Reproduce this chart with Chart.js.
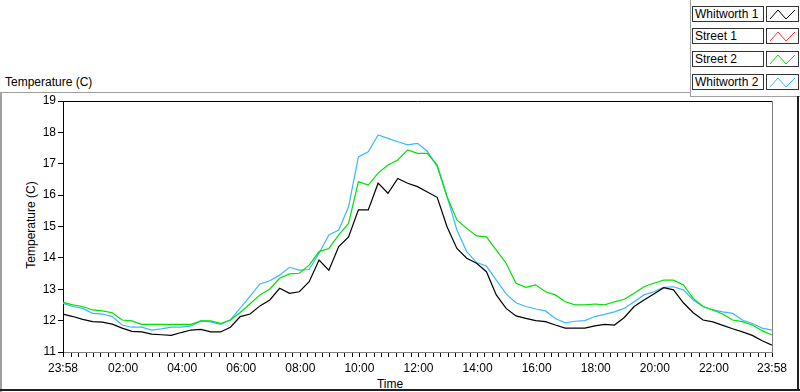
<!DOCTYPE html>
<html>
<head>
<meta charset="utf-8">
<script src="https://cdn.jsdelivr.net/npm/chart.js@4/dist/chart.umd.min.js"></script>
<style>
  body { margin: 0; background: #fff; }
  #wrap { position: relative; width: 800px; height: 392px; overflow: hidden; font-family: "Liberation Sans", Arial, sans-serif; font-size: 12px; color: #000; }
  #chart { position: absolute; left: 0; top: 0; }
  .ln { position: absolute; }
  .txt { position: absolute; white-space: nowrap; }
  .lg-name { position: absolute; left: 692px; width: 68px; height: 14px; border: 1px solid #333; background: #fff; line-height: 14px; padding-left: 2px; box-sizing: content-box; }
  .lg-sw { position: absolute; left: 766px; width: 31px; height: 14px; border: 1px solid #333; background: #fff; }
</style>
</head>
<body>
<div id="wrap">
  <!-- frame -->
  <div class="ln" style="left:0;top:92px;width:690px;height:1px;background:#a0a0a0"></div>
  <div class="ln" style="left:690px;top:0;width:1px;height:97px;background:#a0a0a0"></div>
  <div class="ln" style="left:690px;top:96px;width:110px;height:1px;background:#a0a0a0"></div>
  <div class="ln" style="left:0;top:92px;width:2px;height:300px;background:#a0a0a0"></div>
  <div class="ln" style="left:0;top:389px;width:800px;height:2px;background:#202020"></div>
  <div class="ln" style="left:797px;top:96px;width:2px;height:295px;background:#202020"></div>

  <div class="txt" style="left:5px;top:75px;">Temperature (C)</div>
  <div class="txt" style="left:390px;top:377px;transform:translateX(-50%);">Time</div>
  <div class="txt" style="left:31px;top:225px;transform:translate(-50%,-50%) rotate(-90deg);">Temperature (C)</div>

  <canvas id="chart" width="800" height="392"></canvas>
  <div id="legend"></div>
</div>
<script>
// minutes since 23:58
var times = [0,20,40,60,80,100,120,140,160,180,200,220,240,260,280,300,320,340,360,380,
  400,420,440,460,480,500,520,540,560,580,600,620,640,660,680,700,720,740,760,780,
  800,820,840,860,880,900,920,940,960,980,1000,1020,1040,1060,1080,1100,1120,1140,1160,1180,
  1200,1220,1240,1260,1280,1300,1320,1340,1360,1380,1400,1420,1440];

var whitworth1 = [12.21,12.13,12.04,11.97,11.95,11.89,11.76,11.66,11.64,11.57,11.55,11.53,11.62,11.70,11.72,11.64,11.64,11.79,
  12.13,12.21,12.47,12.66,13.03,12.87,12.92,13.24,13.93,13.61,14.36,14.67,15.53,15.53,16.38,16.06,16.53,16.38,16.27,16.10,
  15.93,14.99,14.30,13.99,13.83,13.56,12.82,12.39,12.15,12.07,12.00,11.97,11.86,11.76,11.76,11.76,11.83,11.88,11.86,
  12.10,12.45,12.66,12.85,13.05,12.98,12.57,12.25,12.02,11.96,11.85,11.74,11.64,11.53,11.36,11.22];

var street1 = [];

var street2 = [12.58,12.50,12.45,12.34,12.31,12.25,12.02,11.99,11.88,11.88,11.88,11.88,11.88,11.88,11.99,11.99,11.91,12.02,
  12.26,12.54,12.82,13.01,13.35,13.49,13.51,13.77,14.20,14.30,14.73,15.10,16.43,16.32,16.70,16.96,17.12,17.44,17.33,17.33,
  16.96,15.95,15.21,14.94,14.70,14.67,14.25,13.83,13.19,13.06,13.14,12.92,12.82,12.60,12.50,12.50,12.53,12.50,12.60,
  12.68,12.87,13.08,13.19,13.29,13.29,13.14,12.71,12.45,12.34,12.21,12.02,11.97,11.86,11.68,11.54];

var whitworth2 = [12.55,12.45,12.39,12.23,12.21,12.13,11.86,11.79,11.79,11.70,11.74,11.79,11.79,11.83,11.99,11.96,11.88,12.02,
  12.40,12.78,13.17,13.27,13.45,13.70,13.61,13.63,14.15,14.73,14.89,15.63,17.22,17.38,17.92,17.81,17.70,17.60,17.65,17.40,
  16.91,15.95,14.89,14.20,13.85,13.74,13.29,12.85,12.57,12.45,12.37,12.31,12.07,11.93,11.98,12.00,12.13,12.20,12.28,
  12.39,12.60,12.82,12.92,13.06,13.08,12.98,12.66,12.45,12.34,12.28,12.23,12.02,11.91,11.76,11.70];

var seriesNames = ['Whitworth 1', 'Street 1', 'Street 2', 'Whitworth 2'];
var seriesColors = ['#000000', '#ff3030', '#00e000', '#3cb6ff'];
var seriesData = [whitworth1, street1, street2, whitworth2];

// tick labels on the time axis (minutes since 23:58)
var majorTicks = [0,122,242,362,482,602,722,842,962,1082,1202,1322,1440];
var majorLabels = ['23:58','02:00','04:00','06:00','08:00','10:00','12:00','14:00','16:00','18:00','20:00','22:00','23:58'];
var yTicks = [11,12,13,14,15,16,17,18,19];

function pts(arr) {
    var out = [];
    for (var i = 0; i < arr.length; i++) {
        out.push({x: times[i], y: arr[i]});
    }
    return out;
}

// legend boxes
var legend = document.getElementById('legend');
var rowTops = [6, 28, 51, 74];
for (var i = 0; i < seriesNames.length; i++) {
    var n = document.createElement('div');
    n.className = 'lg-name';
    n.style.top = rowTops[i] + 'px';
    n.textContent = seriesNames[i];
    legend.appendChild(n);
    var s = document.createElement('div');
    s.className = 'lg-sw';
    s.style.top = rowTops[i] + 'px';
    s.innerHTML = '<svg width="31" height="14"><polyline points="3,12 11,3 19,12 28,3" fill="none" stroke="' +
        seriesColors[i] + '" stroke-width="1"/></svg>';
    legend.appendChild(s);
}

var datasets = [];
for (var j = 0; j < seriesNames.length; j++) {
    datasets.push({
        label: seriesNames[j],
        data: pts(seriesData[j]),
        borderColor: seriesColors[j],
        borderWidth: 1.2,
        pointRadius: 0,
        tension: 0,
        fill: false
    });
}

var frame = {
    id: 'frame',
    afterDraw: function(chart) {
        var a = chart.chartArea, ctx = chart.ctx;
        ctx.save();
        ctx.lineWidth = 1;
        ctx.strokeStyle = '#000';
        ctx.beginPath();
        ctx.moveTo(a.left, a.top + 0.5);
        ctx.lineTo(a.right, a.top + 0.5);
        ctx.stroke();
        ctx.strokeStyle = '#808080';
        ctx.beginPath();
        ctx.moveTo(a.right + 0.5, a.top);
        ctx.lineTo(a.right + 0.5, a.bottom);
        ctx.stroke();
        ctx.restore();
    }
};

var minorTicks = [0];
for (var m = 2; m <= 1427; m += 15) { minorTicks.push(m); }
minorTicks.push(1440);

new Chart(document.getElementById('chart').getContext('2d'), {
    type: 'line',
    data: { datasets: datasets },
    plugins: [frame],
    options: {
        responsive: false,
        animation: false,
        devicePixelRatio: 1,
        layout: { padding: { top: 101, right: 28, left: 0, bottom: 0 } },
        plugins: { legend: { display: false }, tooltip: { enabled: false } },
        font: { family: '"Liberation Sans", Arial, sans-serif', size: 12 },
        scales: {
            x: {
                type: 'linear',
                min: 0,
                max: 1440,
                afterFit: function(scale) { scale.height = 40; },
                afterBuildTicks: function(scale) {
                    scale.ticks = minorTicks.map(function(v) { return {value: v}; });
                },
                ticks: {
                    autoSkip: false,
                    maxRotation: 0,
                    padding: 4,
                    color: '#000',
                    font: { family: '"Liberation Sans", Arial, sans-serif', size: 12 },
                    callback: function(v) {
                        var k = majorTicks.indexOf(v);
                        return k >= 0 ? majorLabels[k] : '';
                    }
                },
                grid: { drawOnChartArea: false, tickLength: 5, color: '#000' },
                border: { color: '#808080' }
            },
            y: {
                min: 11,
                max: 19,
                afterFit: function(scale) { scale.width = 63; },
                afterBuildTicks: function(scale) {
                    scale.ticks = yTicks.map(function(v) { return {value: v}; });
                },
                ticks: {
                    padding: 2,
                    color: '#000',
                    font: { family: '"Liberation Sans", Arial, sans-serif', size: 12 }
                },
                grid: { drawOnChartArea: false, tickLength: 5, color: '#000' },
                border: { color: '#000' }
            }
        }
    }
});
</script>
</body>
</html>
